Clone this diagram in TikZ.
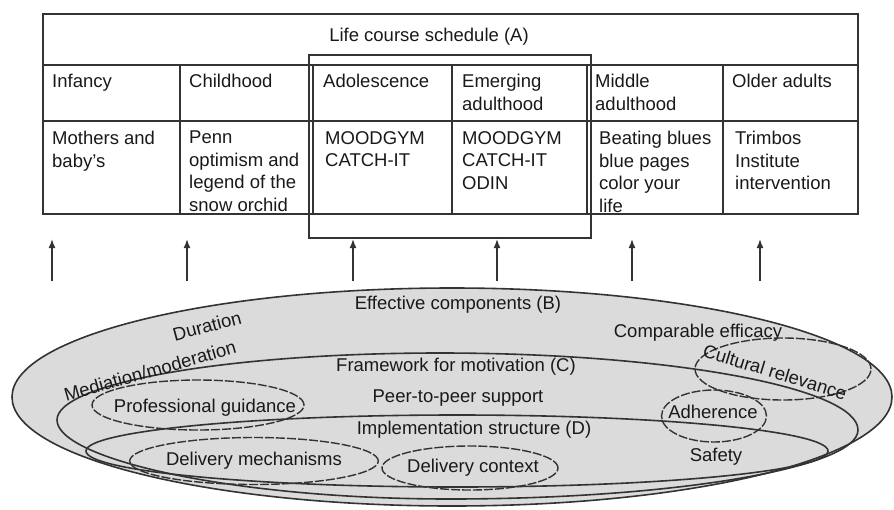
\documentclass[tikz,border=0pt]{standalone}
\usepackage{fontspec}
\setmainfont{Liberation Sans}
\usepackage{tikz}
\usepackage{xcolor}
\usetikzlibrary{shapes.geometric,arrows.meta}

\begin{document}
\begin{tikzpicture}[
    x=1pt, y=1pt,
    font=\fontsize{18.5}{22.5}\selectfont,
    text=black!90,
    grid/.style={draw=black!80, line width=1.7pt},
    cell/.style={anchor=north west, inner sep=0pt, align=left},
    lbl/.style={inner sep=0pt},
    oval/.style={draw=black!80, line width=1.6pt},
    dashoval/.style={draw=black!80, line width=1.4pt, dash pattern=on 9pt off 2pt,
                     ellipse, inner sep=0pt},
    uparrow/.style={-{Latex[length=9pt,width=7pt]}, draw=black!80, line width=1.6pt},
]
\useasboundingbox (0,0) rectangle (894,-509);

% Table (A)
\draw[grid] (43,-14) rectangle (858,-214);
\draw[grid] (43,-65) -- (858,-65);
\draw[grid] (43,-121) -- (858,-121);
\draw[grid] (180,-65) -- (180,-214);
\draw[grid] (313,-65) -- (313,-214);
\draw[grid] (452,-65) -- (452,-214);
\draw[grid] (587,-65) -- (587,-214);
\draw[grid] (723,-65) -- (723,-214);

\node[lbl] (sched) at (429,-37) {Life course schedule (A)};

% Age groups
\node[cell] (infancy) at (52,-74) {Infancy};
\node[cell] (childhood) at (189,-74) {Childhood};
\node[cell] (adolescence) at (323,-74) {Adolescence};
\node[cell] (emerging) at (462,-74) {Emerging\\adulthood};
\node[cell] (middle) at (595,-74) {Middle\\adulthood};
\node[cell] (older) at (732,-74) {Older adults};

% Programmes
\node[cell] (mothers) at (52,-131) {Mothers and\\baby’s};
\node[cell] (penn) at (189,-131) {Penn\\optimism and\\legend of the\\snow orchid};
\node[cell] (moodA) at (325,-131) {MOODGYM\\CATCH-IT};
\node[cell] (moodB) at (462,-131) {MOODGYM\\CATCH-IT\\ODIN};
\node[cell] (beating) at (599,-131) {Beating blues\\blue pages\\color your\\life};
\node[cell] (trimbos) at (735,-131) {Trimbos\\Institute\\intervention};

% Highlight frame
\draw[grid] (309,-55) rectangle (591,-238);

% Arrows up
\coordinate (s1) at (52,-281);  \coordinate (t1) at (52,-239);
\coordinate (s2) at (187,-281); \coordinate (t2) at (187,-239);
\coordinate (s3) at (353,-281); \coordinate (t3) at (353,-239);
\coordinate (s4) at (497,-281); \coordinate (t4) at (497,-239);
\coordinate (s5) at (632,-281); \coordinate (t5) at (632,-239);
\coordinate (s6) at (760,-281); \coordinate (t6) at (760,-239);
\draw[uparrow] (s1) -- (t1);
\draw[uparrow] (s2) -- (t2);
\draw[uparrow] (s3) -- (t3);
\draw[uparrow] (s4) -- (t4);
\draw[uparrow] (s5) -- (t5);
\draw[uparrow] (s6) -- (t6);

% Nested ovals (B), (C), (D)
\draw[oval, fill=black!14] (452,-397) ellipse [x radius=440pt, y radius=109pt];
\draw[oval] (57,-420) .. controls (57,-383) and (228,-353) .. (440,-353)
            .. controls (671,-353) and (858,-388) .. (858,-430)
            .. controls (858,-468) and (672,-499) .. (450,-499)
            .. controls (228,-499) and (57,-458) .. (57,-420) -- cycle;
\draw[oval] (457,-451) ellipse [x radius=371pt, y radius=36pt];

% Labels in (B)
\node[lbl] (effB) at (458,-305) {Effective components (B)};
\node[lbl, rotate=15] (duration) at (207,-326) {Duration};
\node[lbl, rotate=16] (mediation) at (150,-371) {Mediation/moderation};
\node[lbl] (efficacy) at (698,-333) {Comparable efficacy};

% Labels in (C)
\node[lbl] (frameC) at (456,-367) {Framework for motivation (C)};
\node[lbl] (peer) at (458,-398) {Peer-to-peer support};
\node[dashoval, minimum width=212pt, minimum height=50pt] (guidance) at (198,-405) {};
\node[lbl] (guidtext) at (205,-408) {Professional guidance};

% Labels in (D)
\node[lbl] (implD) at (474,-430) {Implementation structure (D)};
\node[dashoval, minimum width=215pt, minimum height=47pt] (mechanisms) at (254,-461) {Delivery mechanisms};
\node[dashoval, minimum width=176pt, minimum height=44pt] (context) at (470,-468) {};
\node[lbl] (contexttext) at (473,-468) {Delivery context};
\node[lbl] (safety) at (716,-457) {Safety};

% Overlapping ovals on the right
\node[dashoval, minimum width=176pt, minimum height=62pt] (cultural) at (783,-369) {};
\node[lbl, rotate=-17] (culturaltext) at (775,-372) {Cultural relevance};
\node[dashoval, minimum width=105pt, minimum height=52pt] (adherence) at (714,-416) {};
\node[lbl] (adherencetext) at (713,-412) {Adherence};

\end{tikzpicture}
\end{document}
